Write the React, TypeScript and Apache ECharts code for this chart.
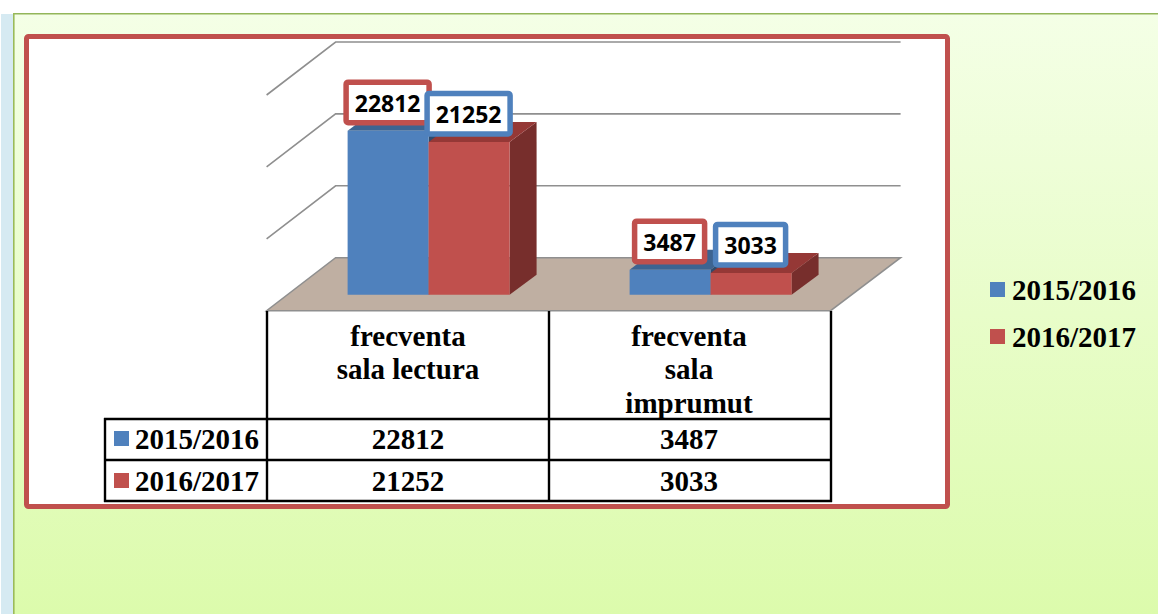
import React, { useEffect, useRef } from "react";
import * as echarts from "echarts";

const categoryLines = [
  ["frecventa", "sala lectura"],
  ["frecventa", "sala", "imprumut"],
];
const categories = ["frecventa sala lectura", "frecventa sala imprumut"];
const seriesNames = ["2015/2016", "2016/2017"];
const values2015 = [22812, 3487];
const values2016 = [21252, 3033];
const gridTicks = [0, 10000, 20000, 30000];

const BLUE = "#4F81BD";
const RED = "#C0504D";
const SERIF = '"Liberation Serif", serif';

// Oblique projection used by the fake 3D look.
const BAR_DEPTH = { dx: 27, dy: -20 };
const FLOOR_FRONT = { dx: -21, dy: 16 };
const FLOOR_BACK = { dx: 48, dy: -37 };

function wallItem(params: any, api: any) {
  const v = api.value(1);
  const c = api.coord([0, v]);
  const w = api.size([1, 0])[0];
  const x0 = c[0] - w / 2;
  const x1 = x0 + w * 2;
  const y = c[1];
  if (v === 0) {
    return {
      type: "polygon",
      shape: {
        points: [
          [x0 + FLOOR_FRONT.dx, y + FLOOR_FRONT.dy],
          [x1 + FLOOR_FRONT.dx, y + FLOOR_FRONT.dy],
          [x1 + FLOOR_BACK.dx + 1, y + FLOOR_BACK.dy],
          [x0 + FLOOR_BACK.dx, y + FLOOR_BACK.dy],
        ],
      },
      style: { fill: "#BFAFA2", stroke: "#8F8F8F", lineWidth: 1.5 },
    };
  }
  return {
    type: "polyline",
    shape: {
      points: [
        [x0 + FLOOR_FRONT.dx, y + FLOOR_FRONT.dy],
        [x0 + FLOOR_BACK.dx, y + FLOOR_BACK.dy],
        [x1 + FLOOR_BACK.dx + 1, y + FLOOR_BACK.dy],
      ],
    },
    style: { fill: "none", stroke: "#8F8F8F", lineWidth: 1.6 },
  };
}

function makeBarItem(side: -1 | 1, front: string, topFace: string, sideFace: string, labelBorder: string) {
  return (params: any, api: any) => {
    const idx = api.value(0);
    const val = api.value(1);
    const top = api.coord([idx, val]);
    const base = api.coord([idx, 0]);
    const band = api.size([1, 0])[0];
    const barW = band * 0.2872;
    const x0 = side < 0 ? top[0] - barW : top[0];
    const x1 = x0 + barW;
    const { dx, dy } = BAR_DEPTH;
    const text = String(val);
    const boxW = text.length > 4 ? 83 : 70;
    const cx = (x0 + x1) / 2 - 0.5;
    const cy = top[1] - 28;
    return {
      type: "group",
      children: [
        { type: "polygon", shape: { points: [[x1, base[1]], [x1 + dx, base[1] + dy], [x1 + dx, top[1] + dy], [x1, top[1]]] }, style: { fill: sideFace } },
        { type: "polygon", shape: { points: [[x0, top[1]], [x1, top[1]], [x1 + dx, top[1] + dy], [x0 + dx, top[1] + dy]] }, style: { fill: topFace } },
        { type: "rect", shape: { x: x0, y: top[1], width: barW, height: base[1] - top[1] }, style: { fill: front } },
        { type: "rect", shape: { x: cx - boxW / 2, y: cy - 20.5, width: boxW, height: 40.5, r: 2 }, style: { fill: "#FFFFFF", stroke: labelBorder, lineWidth: 5.5 } },
        { type: "text", x: cx, y: cy, style: { text, x: 0, y: 0, fill: "#000000", font: 'bold 23px "Open Sans", sans-serif', align: "center", verticalAlign: "middle" } },
      ],
    };
  };
}

function buildGraphic() {
  const t: any[] = [];
  const rect = (x: number, y: number, width: number, height: number, style: any) =>
    t.push({ type: "rect", shape: { x, y, width, height }, style, silent: true });
  // page furniture
  rect(1, 14, 12, 600, { fill: "#D6EAF2" });
  rect(14, 14, 1144, 600, {
    fill: new echarts.graphic.LinearGradient(0, 0, 0, 1, [
      { offset: 0, color: "#F4FFE6" },
      { offset: 1, color: "#DCFBAC" },
    ]),
  });
  rect(13, 13, 1145, 1.4, { fill: "#93B65A" });
  rect(13, 13, 1.6, 601, { fill: "#9BBB59" });
  t.push({ type: "rect", shape: { x: 26.5, y: 36.5, width: 921, height: 470, r: 2 }, style: { fill: "#FFFFFF", stroke: RED, lineWidth: 5 }, silent: true });

  // data table
  const colX = [267, 549, 831];
  const rowY = [419, 460, 501];
  const line = (x1: number, y1: number, x2: number, y2: number, w = 2.4) =>
    ({ type: "line", z: 5, shape: { x1, y1, x2, y2 }, style: { stroke: "#000000", lineWidth: w } });
  colX.forEach((x) => t.push(line(x, 311, x, 502)));
  t.push(line(105, 418, 105, 502));
  rowY.forEach((y) => t.push(line(104, y, 832, y)));

  const label = (text: string, x: number, y: number, align = "center") => ({
    type: "text", z: 5, x, y,
    style: { text, x: 0, y: 0, fill: "#000000", font: `bold 29px ${SERIF}`, align, verticalAlign: "middle" },
  });
  const centers = [408, 689];
  categoryLines.forEach((lines, c) =>
    lines.forEach((s, i) => t.push(label(s, centers[c], 335.5 + i * 33.5)))
  );
  const rows = [values2015, values2016];
  const colors = [BLUE, RED];
  const centersY = [438.5, 480.5];
  rows.forEach((vals, r) => {
    rect(114, centersY[r] - 7.5, 15, 15, { fill: colors[r] });
    t.push({ ...t[t.length - 1], z: 5 });
    t.push(label(seriesNames[r], 135, centersY[r], "left"));
    vals.forEach((v, c) => t.push(label(String(v), centers[c], centersY[r])));
  });
  return t;
}

export default function App() {
  const ref = useRef<HTMLDivElement>(null);
  useEffect(() => {
    document.body.style.margin = "0";
    const chart = echarts.init(ref.current!, undefined, { renderer: "svg" });
    chart.setOption({
      animation: false,
      backgroundColor: "#FFFFFF",
      graphic: { elements: buildGraphic() },
      grid: { left: 287.6, top: 79, width: 564, height: 215.7 },
      xAxis: { type: "category", data: categories, show: false },
      yAxis: { type: "value", min: 0, max: 30000, interval: 10000, show: false },
      legend: {
        show: true,
        orient: "vertical",
        left: 990,
        top: 275,
        padding: 0,
        itemWidth: 15,
        itemHeight: 15,
        itemGap: 18,
        icon: "rect",
        data: seriesNames,
        textStyle: { fontFamily: SERIF, fontWeight: "bold", fontSize: 29, color: "#000000", padding: [0, 0, 0, 2] },
      },
      series: [
        {
          name: "wall",
          type: "custom",
          z: 2,
          silent: true,
          data: gridTicks.map((v) => [0, v]),
          encode: { x: 0, y: 1 },
          renderItem: wallItem,
        },
        {
          name: seriesNames[0],
          type: "custom",
          z: 3,
          itemStyle: { color: BLUE },
          data: values2015.map((v, i) => [i, v]),
          encode: { x: 0, y: 1 },
          renderItem: makeBarItem(-1, BLUE, "#3D6491", "#2F4B6E", RED),
        },
        {
          name: seriesNames[1],
          type: "custom",
          z: 3,
          itemStyle: { color: RED },
          data: values2016.map((v, i) => [i, v]),
          encode: { x: 0, y: 1 },
          renderItem: makeBarItem(1, RED, "#953836", "#772E2C", BLUE),
        },
      ],
    });
    return () => chart.dispose();
  }, []);
  return <div ref={ref} style={{ width: 1158, height: 614 }} />;
}
